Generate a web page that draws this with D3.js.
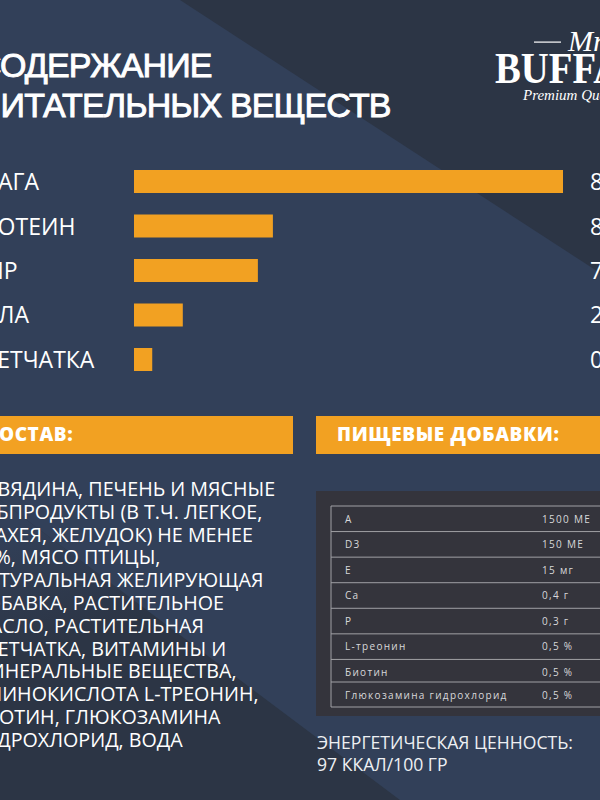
<!DOCTYPE html>
<html>
<head>
<meta charset="utf-8">
<script src="https://d3js.org/d3.v7.min.js"></script>
<style>
  html, body { margin: 0; padding: 0; background: #2c3545; overflow: hidden; }
  text { fill: #fff; }
</style>
</head>
<body>
<div id="chart"></div>
<script>
// the reference is cropped at the left and right, the text runs off the page
var titleLines = ["СОДЕРЖАНИЕ", "ПИТАТЕЛЬНЫХ ВЕЩЕСТВ"];
var categories = ["ВЛАГА", "ПРОТЕИН", "ЖИР", "ЗОЛА", "КЛЕТЧАТКА"];
var barValues = [80, 25.9, 23.1, 9.1, 3.4];
var valueLabels = ["80 %", "8 %", "7 %", "2 %", "0,5 %"];
var sostavLines = [
  "ГОВЯДИНА, ПЕЧЕНЬ И МЯСНЫЕ",
  "СУБПРОДУКТЫ (В Т.Ч. ЛЕГКОЕ,",
  "ТРАХЕЯ, ЖЕЛУДОК) НЕ МЕНЕЕ",
  "70%, МЯСО ПТИЦЫ,",
  "НАТУРАЛЬНАЯ ЖЕЛИРУЮЩАЯ",
  "ДОБАВКА, РАСТИТЕЛЬНОЕ",
  "МАСЛО, РАСТИТЕЛЬНАЯ",
  "КЛЕТЧАТКА, ВИТАМИНЫ И",
  "МИНЕРАЛЬНЫЕ ВЕЩЕСТВА,",
  "АМИНОКИСЛОТА L-ТРЕОНИН,",
  "БИОТИН, ГЛЮКОЗАМИНА",
  "ГИДРОХЛОРИД, ВОДА"
];
var additives = ["A", "D3", "E", "Ca", "P", "L-треонин", "Биотин", "Глюкозамина гидрохлорид"];
var additiveAmounts = ["1500 МЕ", "150 МЕ", "15 мг", "0,4 г", "0,3 г", "0,5 %", "0,5 %", "0,5 %"];
var energyLines = ["ЭНЕРГЕТИЧЕСКАЯ ЦЕННОСТЬ:", "97 ККАЛ/100 ГР"];

var width = 600, height = 800;
var orange = "#f2a122";
var sans = "'Open Sans', sans-serif";

var svg = d3.select("#chart").append("svg")
  .attr("width", width)
  .attr("height", height)
  .style("display", "block");

// background, the lower left corner fades out towards the top
var fade = svg.append("defs").append("linearGradient")
  .attr("id", "fade")
  .attr("gradientUnits", "userSpaceOnUse")
  .attr("x1", 0).attr("y1", 530)
  .attr("x2", 40).attr("y2", 650);
fade.append("stop").attr("offset", 0).attr("stop-color", "#324059");
fade.append("stop").attr("offset", 1).attr("stop-color", "#2c3545");

svg.append("rect").attr("width", width).attr("height", height).attr("fill", "#2c3545");
svg.append("polygon")
  .attr("points", "0,500 400,800 0,800")
  .attr("fill", "url(#fade)");
svg.append("polygon")
  .attr("points", "0,0 180,0 600,273 600,800 400,800 0,500")
  .attr("fill", "#324059");

// title
svg.append("g").selectAll("text")
  .data(titleLines)
  .enter()
  .append("text")
    .attr("x", -23)
    .attr("y", function(d, i) { return 77 + i * 40; })
    .attr("font-family", "'Liberation Sans', Arial, sans-serif")
    .attr("font-size", 34)
    .attr("letter-spacing", -0.87)
    .attr("stroke", "#fff")
    .attr("stroke-width", 0.9)
    .text(function(d) { return d; });

// logo
var logo = svg.append("g");
logo.append("rect").attr("x", 534).attr("y", 41.5).attr("width", 27).attr("height", 1.2).attr("fill", "#fff");
logo.append("text")
  .attr("x", 568).attr("y", 51)
  .attr("font-family", "'Liberation Serif', serif")
  .attr("font-style", "italic")
  .attr("font-size", 30)
  .text("Mr");
logo.append("text")
  .attr("transform", "translate(495,83) scale(0.88,1)")
  .attr("font-family", "'Liberation Serif', serif")
  .attr("font-weight", "bold")
  .attr("font-size", 44)
  .text("BUFFALO");
logo.append("text")
  .attr("x", 523).attr("y", 100)
  .attr("font-family", "'Liberation Serif', serif")
  .attr("font-style", "italic")
  .attr("font-size", 15)
  .text("Premium Quality");

// bars
var x = d3.scaleLinear().domain([0, 80]).range([134, 563]);
var y = d3.scaleBand().domain(categories).range([170, 371]).paddingInner(0.483);

svg.append("g").selectAll("rect")
  .data(categories)
  .enter()
  .append("rect")
    .attr("x", x(0))
    .attr("y", function(d) { return y(d); })
    .attr("width", function(d, i) { return x(barValues[i]) - x(0); })
    .attr("height", y.bandwidth())
    .attr("fill", orange);

svg.append("g").selectAll("text")
  .data(categories)
  .enter()
  .append("text")
    .attr("x", -33)
    .attr("y", function(d) { return y(d) + y.bandwidth() / 2 + 8.5; })
    .attr("font-family", sans)
    .attr("font-size", 23)
    .text(function(d) { return d; });

svg.append("g").selectAll("text")
  .data(valueLabels)
  .enter()
  .append("text")
    .attr("x", 590)
    .attr("y", function(d, i) { return y(categories[i]) + y.bandwidth() / 2 + 8.5; })
    .attr("font-family", sans)
    .attr("font-size", 23)
    .text(function(d) { return d; });

// section headers
svg.append("rect").attr("x", -10).attr("y", 416).attr("width", 303).attr("height", 38).attr("fill", orange);
svg.append("rect").attr("x", 316).attr("y", 416).attr("width", 300).attr("height", 38).attr("fill", orange);
svg.append("text")
  .attr("x", -14).attr("y", 441)
  .attr("font-family", sans).attr("font-weight", 800).attr("font-size", 19).attr("letter-spacing", 0.6)
  .text("СОСТАВ:");
svg.append("text")
  .attr("x", 337).attr("y", 441)
  .attr("font-family", sans).attr("font-weight", 800).attr("font-size", 19).attr("letter-spacing", 0.6)
  .text("ПИЩЕВЫЕ ДОБАВКИ:");

// ingredients
svg.append("g").selectAll("text")
  .data(sostavLines)
  .enter()
  .append("text")
    .attr("x", -28)
    .attr("y", function(d, i) { return 496 + i * 22.8; })
    .attr("font-family", sans)
    .attr("font-size", 19.7)
    .text(function(d) { return d; });

// additives table, the last row is a bit lower than the others
svg.append("rect").attr("x", 316).attr("y", 491).attr("width", 300).attr("height", 225).attr("fill", "#34343c");
var rowY = d3.scalePoint().domain(additives).range([506, 685]);
var lastRowShift = -3;
var tableBottom = 707;
function rowTop(d, i) { return rowY(d) + (i == additives.length - 1 ? lastRowShift : 0); }

var rows = svg.append("g").selectAll("g")
  .data(additives)
  .enter()
  .append("g");
rows.append("line")
  .attr("x1", 331).attr("x2", 620)
  .attr("y1", rowTop)
  .attr("y2", rowTop)
  .attr("stroke", "#a0a0a5");
rows.append("text")
  .attr("x", 345)
  .attr("y", function(d, i) { return rowTop(d, i) + 16.5; })
  .attr("font-family", sans).attr("font-size", 10).attr("letter-spacing", 1.3)
  .style("fill", "#d8d8da")
  .text(function(d) { return d; });
rows.append("text")
  .attr("x", 542)
  .attr("y", function(d, i) { return rowTop(d, i) + 16.5; })
  .attr("font-family", sans).attr("font-size", 10).attr("letter-spacing", 1.3)
  .style("fill", "#d8d8da")
  .text(function(d, i) { return additiveAmounts[i]; });
svg.append("line").attr("x1", 331).attr("x2", 620).attr("y1", tableBottom).attr("y2", tableBottom).attr("stroke", "#a0a0a5");
svg.append("line").attr("x1", 331).attr("x2", 331).attr("y1", 506).attr("y2", tableBottom).attr("stroke", "#a0a0a5");

// energy
svg.append("g").selectAll("text")
  .data(energyLines)
  .enter()
  .append("text")
    .attr("x", 317)
    .attr("y", function(d, i) { return 749 + i * 21.5; })
    .attr("font-family", sans)
    .attr("font-size", 17.6)
    .style("fill", "#eef0f3")
    .text(function(d) { return d; });
</script>
</body>
</html>
